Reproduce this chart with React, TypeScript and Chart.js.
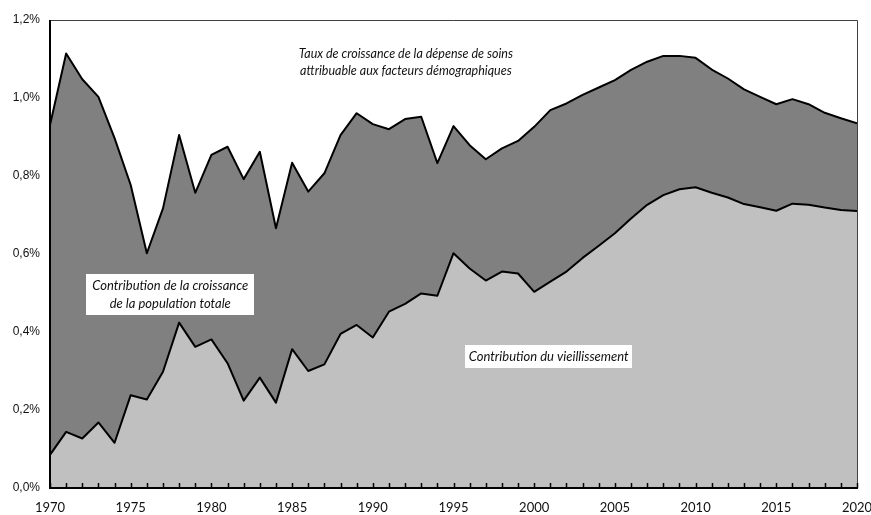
import React, { useEffect, useRef } from "react";
import { Chart, registerables } from "chart.js";

Chart.register(...registerables);

const years = [
  1970, 1971, 1972, 1973, 1974, 1975, 1976, 1977, 1978, 1979,
  1980, 1981, 1982, 1983, 1984, 1985, 1986, 1987, 1988, 1989,
  1990, 1991, 1992, 1993, 1994, 1995, 1996, 1997, 1998, 1999,
  2000, 2001, 2002, 2003, 2004, 2005, 2006, 2007, 2008, 2009,
  2010, 2011, 2012, 2013, 2014, 2015, 2016, 2017, 2018, 2019, 2020,
];

// Taux de croissance total (en %)
const totalGrowth = [
  0.931, 1.114, 1.048, 1.003, 0.897, 0.777, 0.602, 0.717, 0.905, 0.757,
  0.854, 0.875, 0.792, 0.862, 0.666, 0.834, 0.760, 0.807, 0.905, 0.961,
  0.933, 0.920, 0.946, 0.952, 0.833, 0.928, 0.879, 0.843, 0.871, 0.890,
  0.926, 0.969, 0.986, 1.008, 1.027, 1.046, 1.072, 1.093, 1.108, 1.108,
  1.103, 1.073, 1.050, 1.022, 1.003, 0.984, 0.997, 0.984, 0.962, 0.948, 0.935,
];

// Contribution du vieillissement (en %)
const agingContribution = [
  0.085, 0.144, 0.127, 0.168, 0.116, 0.238, 0.227, 0.298, 0.424, 0.362,
  0.381, 0.320, 0.224, 0.283, 0.219, 0.356, 0.300, 0.317, 0.395, 0.418,
  0.386, 0.452, 0.472, 0.499, 0.493, 0.602, 0.563, 0.532, 0.555, 0.550,
  0.503, 0.529, 0.555, 0.590, 0.621, 0.653, 0.691, 0.726, 0.751, 0.766,
  0.771, 0.757, 0.745, 0.728, 0.720, 0.711, 0.729, 0.726, 0.719, 0.713, 0.710,
];

const xLabelYears = [1970, 1975, 1980, 1985, 1990, 1995, 2000, 2005, 2010, 2015, 2020];
const yTicks = [0, 0.2, 0.4, 0.6, 0.8, 1.0, 1.2];

const titleLines = [
  "Taux de croissance de la dépense de soins",
  "attribuable aux facteurs démographiques",
];
const popLabelLines = ["Contribution de la croissance", "de la population totale"];
const agingLabelLines = ["Contribution du vieillissement"];

const titleFont = "italic 12.5px Lato";
const boxFont = "italic 13px Lato";

const framePlugin = {
  id: "frame",
  afterDatasetsDraw(chart: any) {
    const { ctx, chartArea } = chart;
    const { left, right, top, bottom } = chartArea;
    const xs = chart.scales.x;
    const ys = chart.scales.y;
    ctx.save();
    // top & right thin border
    ctx.strokeStyle = "#404040";
    ctx.lineWidth = 1;
    ctx.beginPath();
    ctx.moveTo(left, top + 0.5);
    ctx.lineTo(right + 0.5, top + 0.5);
    ctx.lineTo(right + 0.5, bottom);
    ctx.stroke();
    // inward tick marks every year
    ctx.strokeStyle = "#000";
    ctx.lineWidth = 1.5;
    ctx.beginPath();
    for (const yr of years) {
      const px = Math.round(xs.getPixelForValue(yr)) + 0.5;
      ctx.moveTo(px, bottom);
      ctx.lineTo(px, bottom - 5);
    }
    ctx.stroke();
    // left & bottom thick axis
    ctx.lineWidth = 2;
    ctx.beginPath();
    ctx.moveTo(left, top);
    ctx.lineTo(left, bottom);
    ctx.lineTo(right + 1, bottom);
    ctx.stroke();

    // annotations
    ctx.textAlign = "center";
    ctx.textBaseline = "middle";
    const drawBox = (lines: string[], cx: number, cy: number, w: number, h: number, lh: number) => {
      ctx.fillStyle = "#fff";
      ctx.fillRect(Math.round(cx - w / 2), Math.round(cy - h / 2), w, h);
      ctx.fillStyle = "#111";
      const start = cy - ((lines.length - 1) * lh) / 2;
      lines.forEach((t, i) => ctx.fillText(t, cx, start + i * lh));
    };
    // title (no box)
    ctx.font = titleFont;
    ctx.fillStyle = "#111";
    const tx = xs.getPixelForValue(1992.05);
    const ty = ys.getPixelForValue(1.113);
    titleLines.forEach((t, i) => ctx.fillText(t, tx, ty + i * 17.5));

    ctx.font = boxFont;
    drawBox(popLabelLines, xs.getPixelForValue(1977.45), ys.getPixelForValue(0.495), 168, 41, 17.5);
    drawBox(agingLabelLines, xs.getPixelForValue(2000.9), ys.getPixelForValue(0.336), 167, 23, 17.5);
    ctx.restore();
  },
};

export default function App() {
  const ref = useRef<HTMLCanvasElement>(null);
  useEffect(() => {
    let chart: Chart | null = null;
    let cancelled = false;
    const make = () => {
      if (cancelled || !ref.current) return;
      chart = new Chart(ref.current, {
        type: "line",
        data: {
          datasets: [
            {
              label: "Contribution du vieillissement",
              data: years.map((y, i) => ({ x: y, y: agingContribution[i] })),
              borderColor: "#000",
              borderWidth: 2,
              backgroundColor: "#c0c0c0",
              fill: "origin",
              pointRadius: 0,
              tension: 0,
              borderJoinStyle: "round",
            },
            {
              label: "Taux de croissance total",
              data: years.map((y, i) => ({ x: y, y: totalGrowth[i] })),
              borderColor: "#000",
              borderWidth: 2,
              backgroundColor: "#808080",
              fill: "-1",
              pointRadius: 0,
              tension: 0,
              borderJoinStyle: "round",
            },
          ],
        },
        options: {
          responsive: false,
          animation: false,
          layout: { padding: { left: 0, top: 20, right: 14, bottom: 0 } },
          plugins: {
            legend: { display: false },
            tooltip: { enabled: false },
            filler: { propagate: false },
          },
          scales: {
            x: {
              type: "linear",
              min: 1970,
              max: 2020,
              afterBuildTicks: (s: any) => {
                s.ticks = xLabelYears.map((v) => ({ value: v }));
              },
              ticks: {
                autoSkip: false,
                maxRotation: 0,
                padding: 12,
                color: "#111",
                font: { family: "Lato", size: 13 },
                callback: (v: any) => String(v),
              },
              grid: { display: false, drawTicks: false },
              border: { display: false },
              afterFit: (s: any) => {
                s.height = 27;
                s.paddingLeft = 0;
                s.paddingRight = 0;
              },
            },
            y: {
              min: 0,
              max: 1.2,
              afterBuildTicks: (s: any) => {
                s.ticks = yTicks.map((v) => ({ value: v }));
              },
              ticks: {
                padding: 10,
                color: "#111",
                font: { family: "Liberation Sans", size: 12 },
                callback: (v: any) => Number(v).toFixed(1).replace(".", ",") + "%",
              },
              grid: { display: false, drawTicks: false },
              border: { display: false },
              afterFit: (s: any) => {
                s.width = 50;
                s.paddingTop = 0;
                s.paddingBottom = 0;
              },
            },
          },
        },
        plugins: [framePlugin],
      } as any);
    };
    const fontsApi = (document as any).fonts;
    if (fontsApi && fontsApi.load) {
      Promise.all([
        fontsApi.load(titleFont),
        fontsApi.load(boxFont),
        fontsApi.load("13px Lato"),
        fontsApi.load("12px 'Liberation Sans'"),
      ])
        .catch(() => {})
        .then(make);
    } else {
      make();
    }
    return () => {
      cancelled = true;
      if (chart) chart.destroy();
    };
  }, []);
  return (
    <div style={{ position: "fixed", left: 0, top: 0, width: 871, height: 515, background: "#fff" }}>
      <canvas ref={ref} width={871} height={515} style={{ display: "block" }} />
    </div>
  );
}
